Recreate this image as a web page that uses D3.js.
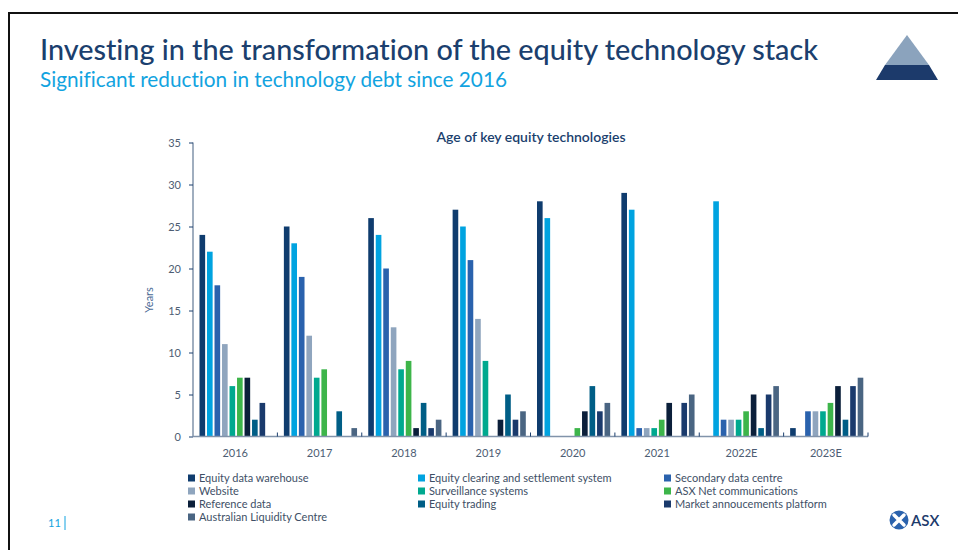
<!DOCTYPE html>
<html><head><meta charset="utf-8">
<script src="https://cdn.jsdelivr.net/npm/d3@7"></script>
<style>
body{margin:0;background:#fff;}
svg{display:block;font-family:Lato, "Open Sans", sans-serif;}
svg text{font-variant-ligatures:none;font-feature-settings:"liga" 0, "clig" 0;}
</style></head>
<body><svg id="chart" width="958" height="550"></svg>
<script>
const categories = ["2016","2017","2018","2019","2020","2021","2022E","2023E"];
const seriesNames = ["Equity data warehouse","Equity clearing and settlement system","Secondary data centre","Website","Surveillance systems","ASX Net communications","Reference data","Equity trading","Market annoucements platform","Australian Liquidity Centre"];
const seriesColors = ["#0f3c6e","#00a3e0","#2a62ad","#8fa5be","#00a98f","#3db54a","#0b1f3a","#005e86","#1a3a6c","#4a6582"];
const equityDataWarehouse = [24,25,26,27,28,29,0,1];
const equityClearing      = [22,23,24,25,26,27,28,0];
const secondaryDataCentre = [18,19,20,21,0,1,2,3];
const website             = [11,12,13,14,0,1,2,3];
const surveillance        = [6,7,8,9,0,1,2,3];
const asxNet              = [7,8,9,0,1,2,3,4];
const referenceData       = [7,0,1,2,3,4,5,6];
const equityTrading       = [2,3,4,5,6,0,1,2];
const marketAnnouncements = [4,0,1,2,3,4,5,6];
const liquidityCentre     = [0,1,2,3,4,5,6,7];
const yTicks = [0,5,10,15,20,25,30,35];
const seriesValues = [equityDataWarehouse,equityClearing,secondaryDataCentre,website,surveillance,asxNet,referenceData,equityTrading,marketAnnouncements,liquidityCentre];

const svg = d3.select("#chart");
const navy = "#1b3f6e";

// frame
svg.append("path").attr("d","M9,551 V13 H960").attr("fill","none").attr("stroke","#111").attr("stroke-width",2);

// titles
svg.append("text").attr("x",40).attr("y",60).attr("font-size",29).attr("font-weight",500).attr("fill",navy)
  .attr("textLength",778).attr("lengthAdjust","spacingAndGlyphs")
  .style("font-variant-ligatures","none")
  .text("Investing in the transformation of the equity technology stack");
svg.append("text").attr("x",40).attr("y",87).attr("font-size",21).attr("fill","#12a3e0")
  .attr("textLength",467).attr("lengthAdjust","spacingAndGlyphs")
  .text("Significant reduction in technology debt since 2016");

// triangle logo
svg.append("path").attr("d","M907,35 L929,65 L885,65 Z").attr("fill","#8ba3bd");
svg.append("path").attr("d","M885,65 L929,65 L938,80 L876,80 Z").attr("fill","#1c3a6b");

// chart
const x0 = d3.scaleBand().domain(categories).range([193,868]).paddingInner(0).paddingOuter(0);
const x1 = d3.scaleBand().domain(d3.range(seriesNames.length)).range([6.5, x0.bandwidth()-4.7]).paddingInner(0.25).paddingOuter(0);
const y = d3.scaleLinear().domain([0,35]).range([436.5,142.5]);

svg.append("text").attr("x",531).attr("y",142).attr("text-anchor","middle").attr("font-size",13.5)
  .attr("font-weight",600).attr("fill",navy).attr("textLength",189).attr("lengthAdjust","spacingAndGlyphs")
  .text("Age of key equity technologies");

const axisColor = "#8193aa";
const yAxis = svg.append("g").attr("transform","translate(193,0)")
  .call(d3.axisLeft(y).tickValues(yTicks).tickSize(4).tickPadding(8));
yAxis.select(".domain").attr("stroke",axisColor).attr("stroke-width",1.5).attr("d","M0,436.5V142.5");
yAxis.selectAll(".tick line").attr("stroke",navy);
yAxis.selectAll(".tick text").attr("fill","#4d5d73").attr("font-size",11).attr("font-family","Lato, sans-serif");

svg.append("text").attr("transform","translate(153,300) rotate(-90)").attr("text-anchor","middle")
  .attr("font-size",11).attr("fill","#4a6a94").text("Years");

// bars
const groups = svg.append("g").selectAll("g").data(categories).join("g")
  .attr("transform",d=>`translate(${x0(d)},0)`);
groups.selectAll("rect").data((c,ci)=>seriesValues.map((s,si)=>({si,v:s[ci]})).filter(d=>d.v>0))
  .join("rect")
  .attr("x",d=>x1(d.si)).attr("width",x1.bandwidth())
  .attr("y",d=>y(d.v)).attr("height",d=>y(0)-y(d.v))
  .attr("fill",d=>seriesColors[d.si]);

// x axis
const xAxis = svg.append("g").attr("transform","translate(0,436.5)");
xAxis.append("line").attr("x1",193).attr("x2",868).attr("stroke",axisColor).attr("stroke-width",1.5);
xAxis.selectAll("line.tk").data(categories.slice(1).concat(["end"])).join("line").attr("class","tk")
  .attr("x1",(d,i)=>x0.range()[0]+x0.step()*(i+1)).attr("x2",(d,i)=>x0.range()[0]+x0.step()*(i+1))
  .attr("y1",0).attr("y2",-4).attr("stroke",navy).attr("stroke-width",1);
xAxis.selectAll("text").data(categories).join("text")
  .attr("x",d=>x0(d)+x0.bandwidth()/2).attr("y",20).attr("text-anchor","middle")
  .attr("font-size",11).attr("fill","#4d5d73").text(d=>d);

// legend
const colX = [188,418,664];
const rowY = [478,491,504,517];
const leg = svg.append("g").selectAll("g").data(seriesNames).join("g")
  .attr("transform",(d,i)=>`translate(${colX[i%3]},${rowY[Math.floor(i/3)]})`);
leg.append("rect").attr("x",0).attr("y",-3.5).attr("width",7).attr("height",7).attr("fill",(d,i)=>seriesColors[i]);
leg.append("text").attr("x",11).attr("y",4).attr("font-size",11).attr("fill","#3e4f66").text(d=>d);

// footer
svg.append("text").attr("x",48).attr("y",527).attr("font-size",11).attr("fill","#12a3e0").text("11");
svg.append("line").attr("x1",65).attr("x2",65).attr("y1",516).attr("y2",530).attr("stroke","#12a3e0").attr("stroke-width",1);
// ASX logo
const logo = svg.append("g").attr("transform","translate(899,520)");
logo.append("circle").attr("r",9.5).attr("fill","#2a62ad");
logo.append("path").attr("d","M-5,-5 L5,5 M5,-5 L-5,5").attr("stroke","#fff").attr("stroke-width",3.5).attr("stroke-linecap","round");
svg.append("text").attr("x",911).attr("y",526).attr("font-size",15).attr("font-weight",600).attr("fill","#1c3a6b").text("ASX");
</script></body></html>
